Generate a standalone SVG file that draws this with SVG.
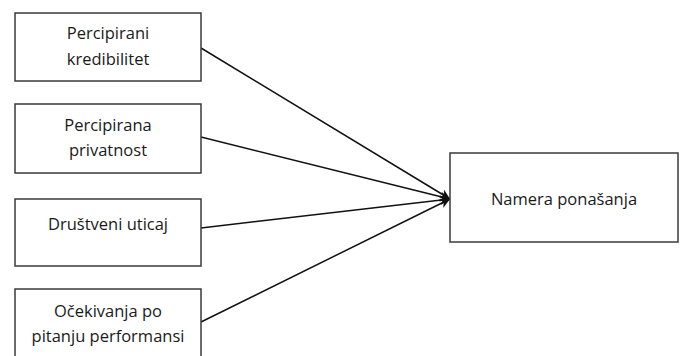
<svg xmlns="http://www.w3.org/2000/svg" width="681" height="356" viewBox="0 0 681 356">
<style>
.box{fill:#fff;stroke:#3a3a3a;stroke-width:1.5}
.t{font-family:"Open Sans","Liberation Sans",sans-serif;font-size:16.5px;fill:#1a1a1a;text-anchor:middle}
.c{stroke:#111;stroke-width:1.5;fill:none;marker-end:url(#ah)}
</style>
<defs>
<marker id="ah" markerWidth="12" markerHeight="10" refX="10" refY="5" orient="auto" markerUnits="userSpaceOnUse">
<path d="M0,0 L10,5 L0,10 L3,5 Z" fill="#111"/>
</marker>
</defs>
<rect width="681" height="356" fill="#fff"/>
<g id="connectors">
<line class="c" x1="201" y1="48" x2="450" y2="199"/>
<line class="c" x1="201" y1="137" x2="450" y2="199"/>
<line class="c" x1="201" y1="228" x2="450" y2="199"/>
<line class="c" x1="201" y1="322" x2="450" y2="199"/>
</g>
<g id="n1"><rect class="box" x="15" y="13" width="186" height="68"/>
<text class="t" x="108" y="39">Percipirani</text><text class="t" x="108" y="65">kredibilitet</text></g>
<g id="n2"><rect class="box" x="15" y="104" width="186" height="69"/>
<text class="t" x="108" y="131">Percipirana</text><text class="t" x="108" y="156">privatnost</text></g>
<g id="n3"><rect class="box" x="15" y="199" width="186" height="67"/>
<text class="t" x="108" y="230">Društveni uticaj</text></g>
<g id="n4"><rect class="box" x="15" y="289" width="186" height="80"/>
<text class="t" x="108" y="317">Očekivanja po</text><text class="t" x="108" y="342">pitanju performansi</text></g>
<g id="n5"><rect class="box" x="450" y="153" width="228" height="89"/>
<text class="t" x="564" y="205">Namera ponašanja</text></g>
</svg>
